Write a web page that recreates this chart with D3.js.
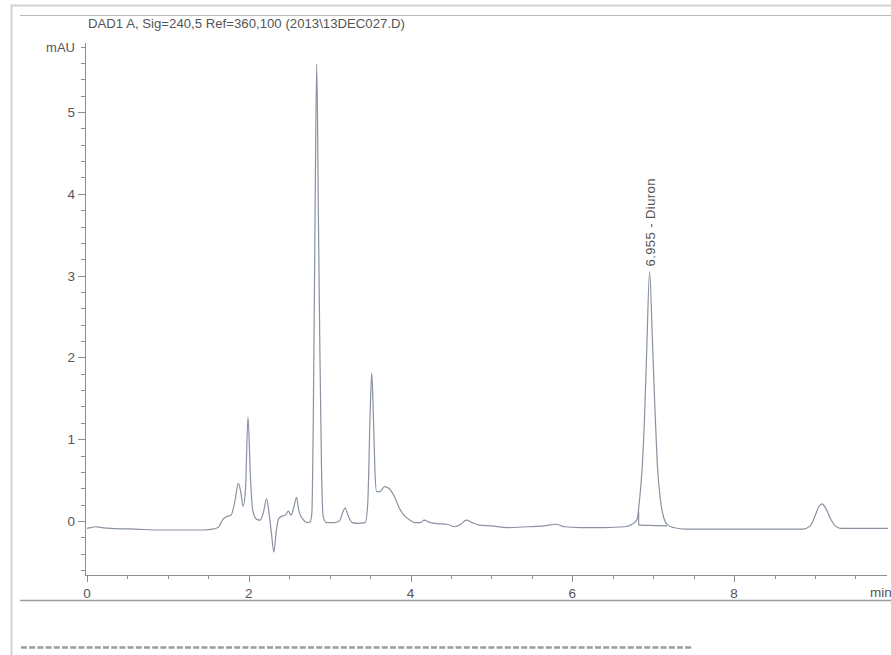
<!DOCTYPE html>
<html>
<head>
<meta charset="utf-8">
<script src="https://cdn.jsdelivr.net/npm/d3@7"></script>
<style>
    body { margin: 0; background: #fff; }
    text { font-family: "Liberation Sans", Arial, sans-serif; fill: #555; }
</style>
</head>
<body>
<div id="chart"></div>
<script>
// signal trace (min, mAU)
const times = [0.00, 0.05, 0.10, 0.18, 0.30, 0.60, 0.90, 1.20, 1.45, 1.55, 1.62, 1.68, 1.72, 1.78, 1.83, 1.87, 1.90, 1.93,
    1.96, 1.99, 2.02, 2.05, 2.10, 2.14, 2.18, 2.22, 2.25, 2.28, 2.31, 2.34, 2.37, 2.41, 2.45, 2.49, 2.52, 2.56, 2.59, 2.62,
    2.67, 2.72, 2.76, 2.78, 2.80, 2.82, 2.84, 2.86, 2.88, 2.90, 2.92, 2.96, 3.05, 3.12, 3.16, 3.19, 3.23, 3.28, 3.35, 3.44,
    3.47, 3.50, 3.52, 3.54, 3.56, 3.58, 3.62, 3.68, 3.73, 3.80, 3.86, 3.92, 3.98, 4.05, 4.12, 4.17, 4.22, 4.30, 4.45, 4.55,
    4.62, 4.69, 4.76, 4.85, 5.00, 5.20, 5.45, 5.65, 5.80, 5.90, 6.10, 6.40, 6.65, 6.74, 6.80, 6.83, 6.86, 6.89, 6.92, 6.955,
    6.99, 7.02, 7.05, 7.09, 7.13, 7.18, 7.25, 7.40, 7.60, 8.00, 8.50, 8.85, 8.94, 9.00, 9.05, 9.09, 9.13, 9.19, 9.25, 9.32,
    9.60, 9.90];
const signal = [-0.09, -0.08, -0.07, -0.08, -0.09, -0.10, -0.11, -0.11, -0.11, -0.10, -0.08, 0.02, 0.05, 0.07, 0.25, 0.46, 0.36, 0.18,
    0.40, 1.27, 0.55, 0.12, 0.02, 0.01, 0.10, 0.27, 0.10, -0.15, -0.38, -0.12, 0.03, 0.06, 0.07, 0.12, 0.07, 0.18, 0.29, 0.12,
    0.02, -0.02, -0.01, 0.10, 1.50, 3.80, 5.59, 3.80, 2.00, 0.60, 0.05, -0.02, -0.02, 0.00, 0.10, 0.16, 0.06, -0.02, -0.03, -0.02,
    0.20, 1.30, 1.81, 1.30, 0.60, 0.36, 0.36, 0.42, 0.40, 0.30, 0.16, 0.07, 0.02, -0.02, -0.02, 0.01, -0.01, -0.03, -0.04, -0.07,
    -0.04, 0.01, -0.02, -0.05, -0.06, -0.08, -0.07, -0.06, -0.04, -0.07, -0.08, -0.08, -0.07, -0.04, 0.02, 0.25, 0.60, 1.20, 2.10, 3.05,
    2.20, 1.40, 0.70, 0.25, 0.04, -0.05, -0.08, -0.10, -0.10, -0.10, -0.10, -0.10, -0.06, 0.06, 0.18, 0.21, 0.16, 0.03, -0.06, -0.09,
    -0.09, -0.09];

// integration baseline under the Diuron peak
const peakBaseTimes = [6.82, 7.17];
const peakBaseValues = [-0.05, -0.06];
const peakLabel = {time: 6.955, value: 3.05, text: "6.955 -  Diuron"};

const xTickLabels = [0, 2, 4, 6, 8];
const yTickLabels = [0, 1, 2, 3, 4, 5];
const title = "DAD1 A, Sig=240,5 Ref=360,100 (2013\\13DEC027.D)";

const W = 891, H = 655;
const traceColor = "#8a92a0";
const axisColor = "#8e8e8e";

const svg = d3.select("#chart").append("svg")
    .attr("width", W)
    .attr("height", H);

// page frame + printout rules
svg.append("path")
    .attr("d", "M11.5,655 V5.5 H891")
    .attr("fill", "none")
    .attr("stroke", "#d2d2d2")
    .attr("stroke-width", 2);
svg.append("line")
    .attr("x1", 20).attr("x2", W).attr("y1", 15.5).attr("y2", 15.5)
    .attr("stroke", "#b8b8b8");
svg.append("line")
    .attr("x1", 20).attr("x2", W).attr("y1", 600.5).attr("y2", 600.5)
    .attr("stroke", "#9c9c9c").attr("stroke-width", 1.5);
svg.append("line")
    .attr("x1", 21).attr("x2", 692).attr("y1", 647.5).attr("y2", 647.5)
    .attr("stroke", "#9c9c9c").attr("stroke-width", 2.5)
    .attr("stroke-dasharray", "6,2.2");

svg.append("text")
    .attr("x", 88).attr("y", 28)
    .attr("font-size", 13.2)
    .attr("fill", "#505050")
    .attr("textLength", 317)
    .text(title);

// scales
const x = d3.scaleLinear().domain([0, 9.89]).range([87, 887]);
const y = d3.scaleLinear().domain([0, 5]).range([521, 112]);
const yTop = 43, yBottom = 575;

// axis lines
svg.append("line")
    .attr("x1", 85.5).attr("x2", 85.5).attr("y1", yTop).attr("y2", yBottom)
    .attr("stroke", axisColor);
svg.append("line")
    .attr("x1", 85).attr("x2", 887).attr("y1", yBottom + 0.5).attr("y2", yBottom + 0.5)
    .attr("stroke", axisColor);

// y ticks (minor every 0.2)
const yMinor = d3.range(-6, 59, 2).map(d => d / 10);
svg.append("g").selectAll("line")
    .data(yMinor)
    .join("line")
    .attr("x1", d => Number.isInteger(d) ? 78 : 81)
    .attr("x2", 85)
    .attr("y1", d => Math.round(y(d)) + 0.5)
    .attr("y2", d => Math.round(y(d)) + 0.5)
    .attr("stroke", axisColor);
svg.append("g").selectAll("text")
    .data(yTickLabels)
    .join("text")
    .attr("x", 75)
    .attr("y", d => y(d) + 5)
    .attr("text-anchor", "end")
    .attr("font-size", 13.5)
    .text(d => d);
svg.append("text")
    .attr("x", 75).attr("y", 52)
    .attr("text-anchor", "end")
    .attr("font-size", 13)
    .text("mAU");

// x ticks (minor every 0.5)
const xMinor = d3.range(0, 20).map(d => d / 2);
svg.append("g").selectAll("line")
    .data(xMinor)
    .join("line")
    .attr("x1", d => Math.round(x(d)) + 0.5)
    .attr("x2", d => Math.round(x(d)) + 0.5)
    .attr("y1", yBottom)
    .attr("y2", d => xTickLabels.includes(d) ? yBottom + 7 : yBottom + 4)
    .attr("stroke", axisColor);
svg.append("g").selectAll("text")
    .data(xTickLabels)
    .join("text")
    .attr("x", d => x(d))
    .attr("y", 598)
    .attr("text-anchor", "middle")
    .attr("font-size", 13.5)
    .text(d => d);
svg.append("text")
    .attr("x", 870).attr("y", 597)
    .attr("font-size", 13.5)
    .text("min");

// trace
const trace = times.map((t, i) => ({t: t, v: signal[i]}));
const line = d3.line()
    .curve(d3.curveMonotoneX)
    .x(d => x(d.t))
    .y(d => y(d.v));

svg.append("path")
    .datum(trace)
    .attr("d", line)
    .attr("fill", "none")
    .attr("stroke", traceColor)
    .attr("stroke-width", 1.2)
    .attr("stroke-linejoin", "round");

// integration baseline + drop line
const base = peakBaseTimes.map((t, i) => ({t: t, v: peakBaseValues[i]}));
svg.append("path")
    .datum(base)
    .attr("d", d3.line().x(d => x(d.t)).y(d => y(d.v)))
    .attr("fill", "none")
    .attr("stroke", traceColor)
    .attr("stroke-width", 1.2);
svg.append("line")
    .attr("x1", x(peakBaseTimes[0])).attr("x2", x(peakBaseTimes[0]))
    .attr("y1", y(peakBaseValues[0])).attr("y2", y(0.12))
    .attr("stroke", traceColor)
    .attr("stroke-width", 1.2);

// peak annotation
svg.append("text")
    .attr("transform", `translate(${x(peakLabel.time) + 5},${y(peakLabel.value) - 5}) rotate(-90)`)
    .attr("font-size", 13)
    .attr("textLength", 88)
    .text(peakLabel.text);
</script>
</body>
</html>
